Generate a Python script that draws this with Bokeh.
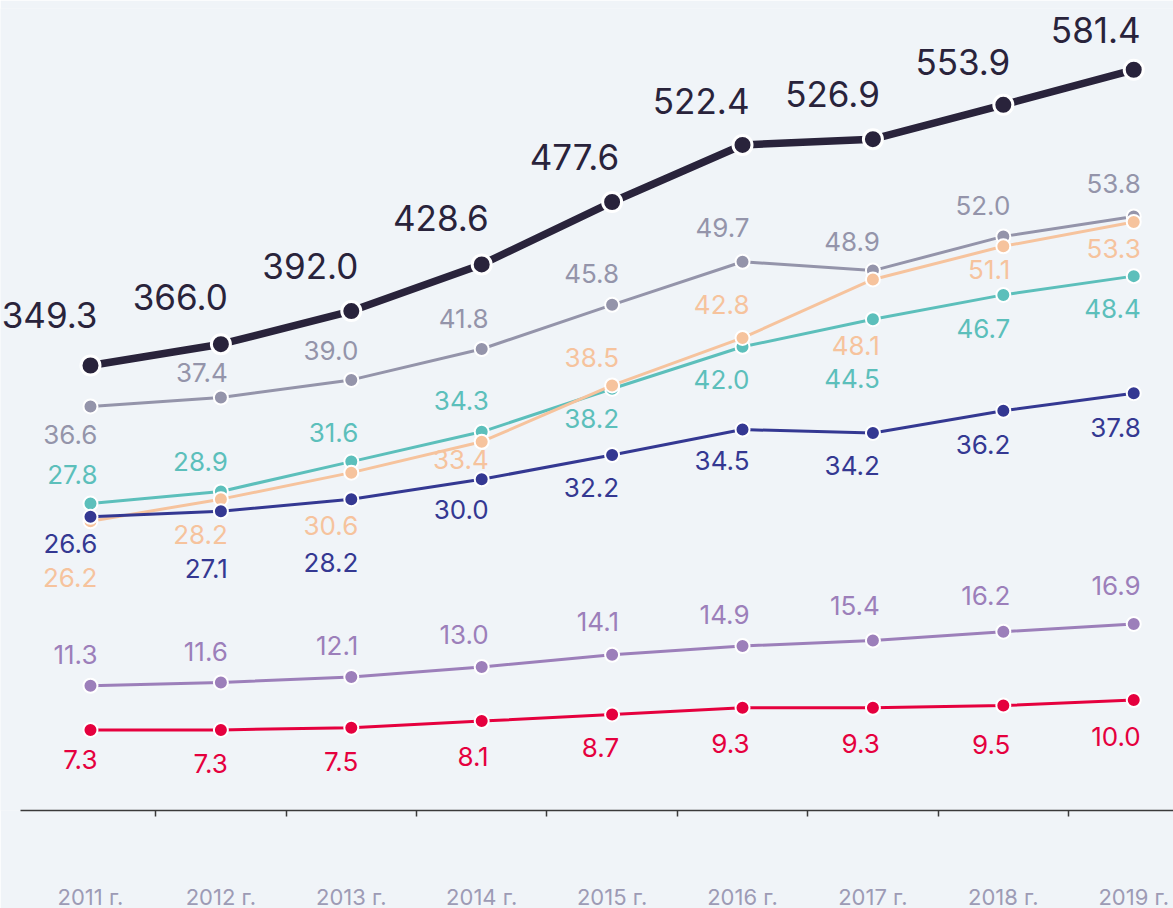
from bokeh.plotting import figure
from bokeh.models import Range1d, FixedTicker, ColumnDataSource, LabelSet
from bokeh.embed import file_html
from bokeh.resources import INLINE
from bokeh.core.properties import value

# ---------------- data ----------------
years = ["2011 г.", "2012 г.", "2013 г.", "2014 г.", "2015 г.",
         "2016 г.", "2017 г.", "2018 г.", "2019 г."]
total = [349.3, 366.0, 392.0, 428.6, 477.6, 522.4, 526.9, 553.9, 581.4]
grey_s = [36.6, 37.4, 39.0, 41.8, 45.8, 49.7, 48.9, 52.0, 53.8]
teal_s = [27.8, 28.9, 31.6, 34.3, 38.2, 42.0, 44.5, 46.7, 48.4]
peach_s = [26.2, 28.2, 30.6, 33.4, 38.5, 42.8, 48.1, 51.1, 53.3]
navy_s = [26.6, 27.1, 28.2, 30.0, 32.2, 34.5, 34.2, 36.2, 37.8]
purple_s = [11.3, 11.6, 12.1, 13.0, 14.1, 14.9, 15.4, 16.2, 16.9]
red_s = [7.3, 7.3, 7.5, 8.1, 8.7, 9.3, 9.3, 9.5, 10.0]

# ---------------- label layout (screen px, + = down) ----------------
dy_total = [-50, -47, -45, -46, -45, -44, -45, -43, -40]
dy_grey = [28, -25, -29, -30, -31, -34, -29, -31, -33]
dy_teal = [-29, -30, -29, -31, 30, 33, 59, 34, 32]
dy_peach = [56, 35, 53, 18, -28, -33, 66, 23, 26]
dy_navy = [27, 57, 63, 30, 33, 31, 33, 34, 34]
dy_purple = [-31, -31, -31, -32, -33, -31, -35, -36, -38]
dy_red = [30, 34, 34, 35, 33, 36, 36, 39, 36]

BG = "#f0f4f8"
FONT = "Inter"

p = figure(frame_width=1173, frame_height=802,
           x_range=Range1d(-0.690, 8.305), y_range=Range1d(0, 72.64),
           output_backend="svg", toolbar_location=None,
           y_axis_location=None, min_border_left=0, min_border_right=0,
           min_border_top=8, min_border_bottom=0,
           background_fill_color=BG, border_fill_color=BG)
p.extra_y_ranges = {"tot": Range1d(0, 629.5)}
p.outline_line_color = None
p.xgrid.visible = False
p.ygrid.visible = False

xs = list(range(len(years)))

ax = p.xaxis[0]
ax.bounds = (-0.537, 8.305)
ax.ticker = FixedTicker(ticks=xs, minor_ticks=[i + 0.5 for i in xs[:-1]])
ax.major_label_overrides = {i: years[i] for i in xs}
ax.major_tick_out = 0
ax.major_tick_in = 0
ax.minor_tick_out = 6
ax.minor_tick_in = 0
ax.minor_tick_line_color = "#3a3a3a"
ax.minor_tick_line_width = 1.5
ax.axis_line_color = "#3a3a3a"
ax.axis_line_width = 1.5
ax.major_label_standoff = 67
ax.major_label_text_font = FONT
ax.major_label_text_font_size = "22px"
ax.major_label_text_color = "#9d9bb5"


def series(vals, dys, color, lw, msize, mlw, fsize, rng="default"):
    src = ColumnDataSource(dict(x=xs, y=vals, dy=[-d for d in dys],
                                lbl=[f"{v:.1f}" for v in vals]))
    p.line("x", "y", source=src, line_color=color, line_width=lw,
           y_range_name=rng)
    p.scatter("x", "y", source=src, size=msize, fill_color=color,
              line_color="white", line_width=mlw, y_range_name=rng)
    p.add_layout(LabelSet(x="x", y="y", text="lbl", source=src,
                          x_offset=7, y_offset="dy",
                          text_align="right", text_baseline="middle",
                          text_font=value(FONT),
                          text_font_size=value(f"{fsize}px"),
                          text_color=color, y_range_name=rng))


series(grey_s, dy_grey, "#9494aa", 3, 14, 2, 26)
series(teal_s, dy_teal, "#5cbfbb", 3, 14, 2, 26)
series(peach_s, dy_peach, "#f6c39d", 3, 14, 2, 26)
series(navy_s, dy_navy, "#343892", 3, 14, 2, 26)
series(purple_s, dy_purple, "#9c7fba", 3, 14, 2, 26)
series(red_s, dy_red, "#e5003e", 3, 14, 2, 26)
series(total, dy_total, "#29233b", 7.5, 19, 3, 35, rng="tot")

open("out.html", "w").write(file_html(p, INLINE))
